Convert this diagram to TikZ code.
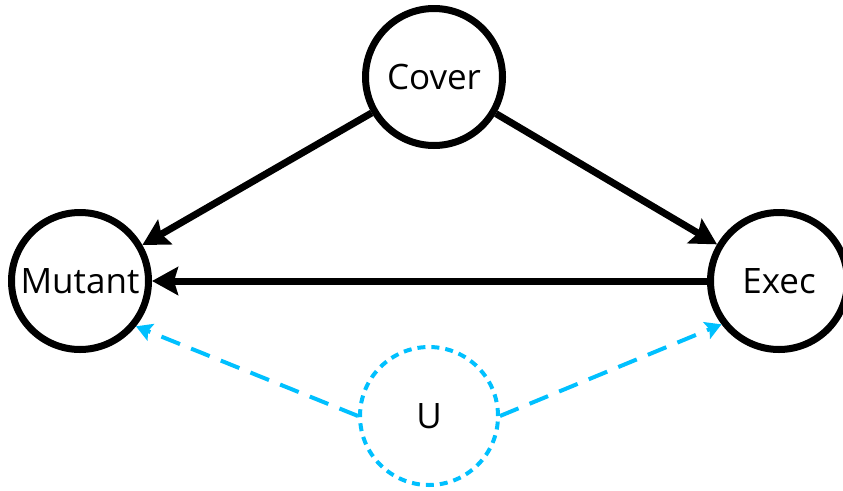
\documentclass[tikz,border=0pt]{standalone}
\usepackage{fontspec}
\setmainfont{Open Sans}
\usetikzlibrary{arrows.meta}
\definecolor{ucyan}{RGB}{0,192,255}
\begin{document}
\begin{tikzpicture}[x=1pt,y=-1pt,line
				join=round,font=\fontsize{35}{41}\selectfont,
				var/.style={circle,draw,line width=7pt,minimum size=137pt,inner sep=0pt},
				hid/.style={circle,draw=ucyan,line width=4pt,dash pattern=on 8pt off 6pt,minimum size=138pt,inner sep=0pt},
				cause/.style={line width=7pt,-{Stealth[length=26pt,width=28pt,inset=4pt]}},
				conf/.style={ucyan,line width=4pt,dash pattern=on 20pt off 12pt,-{Stealth[length=16pt,width=18pt,inset=3pt]}}]
				\useasboundingbox (0,0) rectangle (843,490);
				\node[var] (C) at (434,77) {Cover};
				\node[var] (M) at (80,281) {Mutant};
				\node[var] (E) at (779,281) {Exec};
				\node[hid] (U) at (429,416) {U};
				\draw[cause] (C)--(M);
				\draw[cause] (C)--(E);
				\draw[cause] (E)--(M);
				\draw[conf] (U.west)--(M.-39);
				\draw[conf] (U.east)--(E.217);
			\end{tikzpicture}
\end{document}
